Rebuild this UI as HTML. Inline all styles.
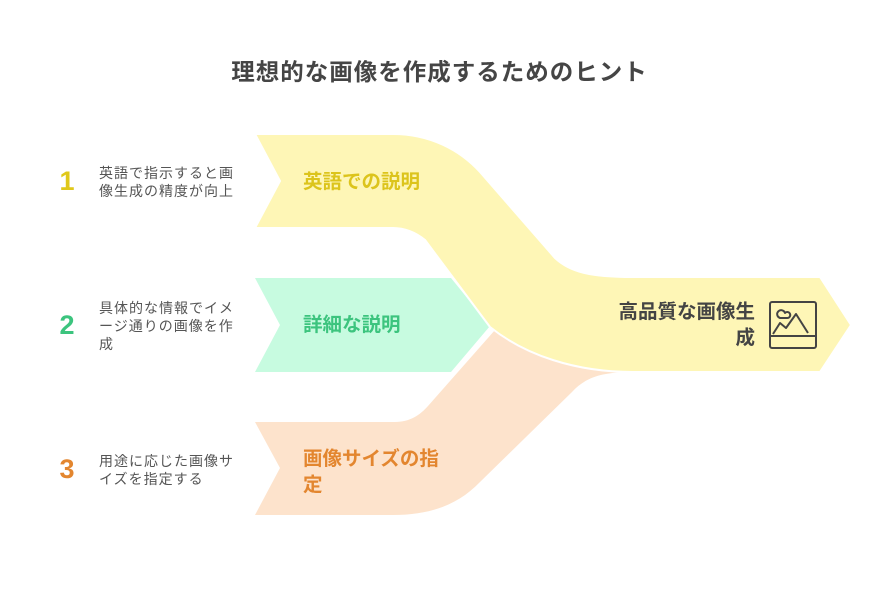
<!DOCTYPE html>
<html><head><meta charset="utf-8"><style>
body{margin:0;width:879px;height:602px;background:#fff;font-family:"Liberation Sans","Noto Sans CJK JP",sans-serif;position:relative;overflow:hidden}
.a{position:absolute}
.t{left:0;width:879px;top:53px;text-align:center;font-size:23.5px;font-weight:bold;color:#454545;letter-spacing:1px}
.n{font-size:27px;font-weight:bold;left:56px;width:22px;text-align:center}
.d{left:99px;font-size:14px;color:#555;line-height:18px;width:140px;letter-spacing:1px}
.l{font-size:19.5px;font-weight:bold;left:303px;line-height:26px}
</style></head><body>
<svg class="a" style="left:0;top:0" width="879" height="602">
<path d="M255,422 H395 C410,422 420,415 428,406 L495,330 L640,370 L633,372 C600,372 585,378 572,392 L480,482 C458,505 430,515 393,515 H255 L280,468 Z" fill="#fde3cc"/>
<path d="M255,278 H451 L490,326 L451,372 H255 L280,325 Z" fill="#c7fbe0"/>
<path d="M255,134 H393 C430,134 460,150 480,172 L555,258 C570,272 590,277 633,277 H820 L851,325 L820,372 H633 C575,372 525,355 490,327 L425,240 C415,232 405,228 393,228 H255 L280,181 Z" fill="#fef6b6" stroke="#fff" stroke-width="2"/>
<g fill="none" stroke="#444" stroke-width="2" stroke-linejoin="round">
<rect x="770" y="302" width="46" height="46" rx="2"/>
<line x1="770" y1="336" x2="816" y2="336"/>
<path d="M773,334 L780,323 L786,328 L796,314 L808,333"/>
<path d="M780,318 a4,4 0 1 1 5,-5 a3,3 0 1 1 2,5 Z"/>
</g>
</svg>
<div class="a t">理想的な画像を作成するためのヒント</div>
<div class="a n" style="top:166px;color:#e0c81a">1</div>
<div class="a n" style="top:310px;color:#3cc47e">2</div>
<div class="a n" style="top:454px;color:#e3862f">3</div>
<div class="a d" style="top:164px">英語で指示すると画像生成の精度が向上</div>
<div class="a d" style="top:299px">具体的な情報でイメージ通りの画像を作成</div>
<div class="a d" style="top:452px">用途に応じた画像サイズを指定する</div>
<div class="a l" style="top:169px;color:#dcc41c">英語での説明</div>
<div class="a l" style="top:312px;color:#3cc47e">詳細な説明</div>
<div class="a l" style="top:446px;color:#e3862f;width:150px">画像サイズの指定</div>
<div class="a l" style="top:299px;left:605px;width:150px;text-align:right;color:#444">高品質な画像生成</div>
</body></html>
